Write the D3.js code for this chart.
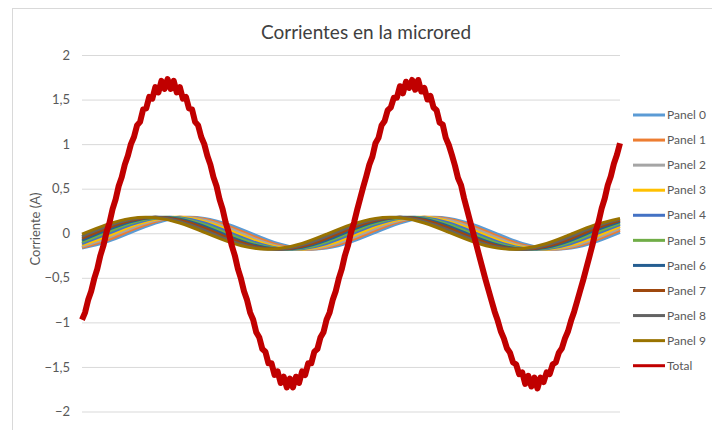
<!DOCTYPE html>
<html>
<head>
<meta charset="utf-8">
<script src="https://cdn.jsdelivr.net/npm/d3@7"></script>
<style>
  html, body { margin: 0; padding: 0; background: #ffffff; }
  svg { display: block; font-family: Lato, "Open Sans", sans-serif; }
</style>
</head>
<body>
<svg id="chart" width="712" height="430"></svg>
<script>
// Corrientes medidas en la microred: 10 paneles y la corriente total (A)
const titulo = "Corrientes en la microred";
const tituloEje = "Corriente (A)";
const series = ["Panel 0", "Panel 1", "Panel 2", "Panel 3", "Panel 4",
                "Panel 5", "Panel 6", "Panel 7", "Panel 8", "Panel 9", "Total"];
const colores = ["#5B9BD5", "#ED7D31", "#A5A5A5", "#FFC000", "#4472C4",
                 "#70AD47", "#255E91", "#9E480E", "#636363", "#997300", "#C00000"];

const yTicks = [-2, -1.5, -1, -0.5, 0, 0.5, 1, 1.5, 2];

// Tiempo (ms) de las muestras de los paneles
const tPanel = [0, 2, 4, 6, 8, 10, 12, 14, 16, 18, 20, 22, 24, 26, 28, 30, 32, 34, 36, 38, 40, 42, 44];

const panel0 = [-0.167, -0.096, 0.011, 0.115, 0.174, 0.167, 0.096, -0.011, -0.115, -0.174, -0.167, -0.096, 0.011, 0.115, 0.174, 0.167, 0.096, -0.011, -0.115, -0.174, -0.167, -0.096, 0.011];
const panel1 = [-0.158, -0.077, 0.034, 0.131, 0.179, 0.158, 0.077, -0.034, -0.131, -0.179, -0.158, -0.077, 0.034, 0.131, 0.179, 0.158, 0.077, -0.034, -0.131, -0.179, -0.158, -0.077, 0.034];
const panel2 = [-0.146, -0.056, 0.056, 0.146, 0.180, 0.146, 0.056, -0.056, -0.146, -0.180, -0.146, -0.056, 0.056, 0.146, 0.180, 0.146, 0.056, -0.056, -0.146, -0.180, -0.146, -0.056, 0.056];
const panel3 = [-0.131, -0.034, 0.077, 0.158, 0.179, 0.131, 0.034, -0.077, -0.158, -0.179, -0.131, -0.034, 0.077, 0.158, 0.179, 0.131, 0.034, -0.077, -0.158, -0.179, -0.131, -0.034, 0.077];
const panel4 = [-0.115, -0.011, 0.096, 0.167, 0.174, 0.115, 0.011, -0.096, -0.167, -0.174, -0.115, -0.011, 0.096, 0.167, 0.174, 0.115, 0.011, -0.096, -0.167, -0.174, -0.115, -0.011, 0.096];
const panel5 = [-0.096, 0.011, 0.115, 0.174, 0.167, 0.096, -0.011, -0.115, -0.174, -0.167, -0.096, 0.011, 0.115, 0.174, 0.167, 0.096, -0.011, -0.115, -0.174, -0.167, -0.096, 0.011, 0.115];
const panel6 = [-0.077, 0.034, 0.131, 0.179, 0.158, 0.077, -0.034, -0.131, -0.179, -0.158, -0.077, 0.034, 0.131, 0.179, 0.158, 0.077, -0.034, -0.131, -0.179, -0.158, -0.077, 0.034, 0.131];
const panel7 = [-0.056, 0.056, 0.146, 0.180, 0.146, 0.056, -0.056, -0.146, -0.180, -0.146, -0.056, 0.056, 0.146, 0.180, 0.146, 0.056, -0.056, -0.146, -0.180, -0.146, -0.056, 0.056, 0.146];
const panel8 = [-0.034, 0.077, 0.158, 0.179, 0.131, 0.034, -0.077, -0.158, -0.179, -0.131, -0.034, 0.077, 0.158, 0.179, 0.131, 0.034, -0.077, -0.158, -0.179, -0.131, -0.034, 0.077, 0.158];
const panel9 = [-0.011, 0.096, 0.167, 0.174, 0.115, 0.011, -0.096, -0.167, -0.174, -0.115, -0.011, 0.096, 0.167, 0.174, 0.115, 0.011, -0.096, -0.167, -0.174, -0.115, -0.011, 0.096, 0.167];

// Corriente total, una muestra cada 0,25 ms
const dtTotal = 0.25;
const total = [
  -0.97, -0.89, -0.75, -0.65, -0.51, -0.40, -0.25, -0.14, 0.01, 0.12,
  0.27, 0.38, 0.53, 0.63, 0.77, 0.87, 1.00, 1.08, 1.21, 1.25,
  1.39, 1.40, 1.53, 1.51, 1.64, 1.58, 1.71, 1.62, 1.73, 1.62,
  1.71, 1.58, 1.64, 1.51, 1.53, 1.40, 1.39, 1.25, 1.21, 1.08,
  1.00, 0.87, 0.77, 0.63, 0.53, 0.38, 0.27, 0.12, 0.01, -0.14,
  -0.25, -0.40, -0.51, -0.65, -0.75, -0.89, -0.97, -1.11, -1.17, -1.30,
  -1.33, -1.46, -1.46, -1.59, -1.55, -1.68, -1.61, -1.73, -1.63, -1.73,
  -1.61, -1.68, -1.55, -1.59, -1.46, -1.46, -1.33, -1.30, -1.17, -1.11,
  -0.97, -0.89, -0.75, -0.65, -0.51, -0.40, -0.25, -0.14, 0.01, 0.12,
  0.26, 0.39, 0.52, 0.64, 0.77, 0.86, 1.01, 1.07, 1.21, 1.26,
  1.38, 1.41, 1.52, 1.52, 1.65, 1.57, 1.70, 1.63, 1.72, 1.61,
  1.72, 1.59, 1.63, 1.50, 1.54, 1.41, 1.38, 1.24, 1.22, 1.07,
  0.99, 0.88, 0.76, 0.62, 0.54, 0.39, 0.26, 0.13, 0.00, -0.13,
  -0.26, -0.39, -0.52, -0.64, -0.76, -0.88, -0.98, -1.10, -1.18, -1.29,
  -1.34, -1.45, -1.47, -1.58, -1.56, -1.69, -1.60, -1.72, -1.62, -1.74,
  -1.62, -1.67, -1.56, -1.58, -1.47, -1.45, -1.34, -1.29, -1.18, -1.10,
  -0.98, -0.88, -0.76, -0.64, -0.52, -0.39, -0.26, -0.13, 0.02, 0.13,
  0.28, 0.39, 0.54, 0.64, 0.78, 0.88, 1.01
];

const paneles = [panel0, panel1, panel2, panel3, panel4, panel5, panel6, panel7, panel8, panel9];

const svg = d3.select("#chart");
const W = 712, H = 430;
const plot = { left: 82, right: 620, top: 55, bottom: 411.5 };

// Marco del área del gráfico
svg.append("rect")
  .attr("x", 12.5).attr("y", 8.5)
  .attr("width", W).attr("height", H)
  .attr("fill", "#ffffff")
  .attr("stroke", "#D9D9D9").attr("stroke-width", 1);

const x = d3.scaleLinear().domain([0, 44]).range([plot.left, plot.right]);
const y = d3.scaleLinear().domain([-2, 2]).range([plot.bottom, plot.top]);

// Líneas de cuadrícula y etiquetas del eje vertical
const fmt = v => d3.format("")(v).replace(".", ",");
const yAxis = d3.axisLeft(y)
  .tickValues(yTicks)
  .tickFormat(fmt)
  .tickSize(-(plot.right - plot.left))
  .tickPadding(12);

const gy = svg.append("g")
  .attr("transform", `translate(${plot.left},0)`)
  .call(yAxis);
gy.select(".domain").remove();
gy.selectAll(".tick line").attr("stroke", "#D9D9D9").attr("stroke-width", 1);
gy.selectAll(".tick text")
  .attr("fill", "#595959")
  .style("font-size", "13px")
  .style("font-family", "Lato, sans-serif");

// Título del eje
svg.append("text")
  .attr("transform", "translate(40,229) rotate(-90)")
  .attr("text-anchor", "middle")
  .attr("fill", "#595959")
  .style("font-size", "13px")
  .text(tituloEje);

// Título
svg.append("text")
  .attr("x", 366).attr("y", 39)
  .attr("text-anchor", "middle")
  .attr("fill", "#404040")
  .style("font-size", "19px")
  .text(titulo);

// Series de los paneles
const lineaPanel = d3.line()
  .x((d, i) => x(tPanel[i]))
  .y(d => y(d))
  .curve(d3.curveNatural);

const gSeries = svg.append("g");
paneles.forEach((vals, k) => {
  gSeries.append("path")
    .datum(vals)
    .attr("fill", "none")
    .attr("stroke", colores[k])
    .attr("stroke-width", 3)
    .attr("stroke-linejoin", "round")
    .attr("d", lineaPanel);
});

// Corriente total
const lineaTotal = d3.line()
  .x((d, i) => x(i * dtTotal))
  .y(d => y(d));

gSeries.append("path")
  .datum(total)
  .attr("fill", "none")
  .attr("stroke", colores[10])
  .attr("stroke-width", 6)
  .attr("stroke-linejoin", "round")
  .attr("d", lineaTotal);

// Leyenda
const leyenda = svg.append("g");
series.forEach((nombre, i) => {
  const yy = 115 + i * 25.07;
  leyenda.append("line")
    .attr("x1", 633).attr("x2", 665)
    .attr("y1", yy).attr("y2", yy)
    .attr("stroke", colores[i])
    .attr("stroke-width", 3);
  leyenda.append("text")
    .attr("x", 667).attr("y", yy)
    .attr("dy", "0.35em")
    .attr("fill", "#595959")
    .style("font-size", "12px")
    .text(nombre);
});
</script>
</body>
</html>
